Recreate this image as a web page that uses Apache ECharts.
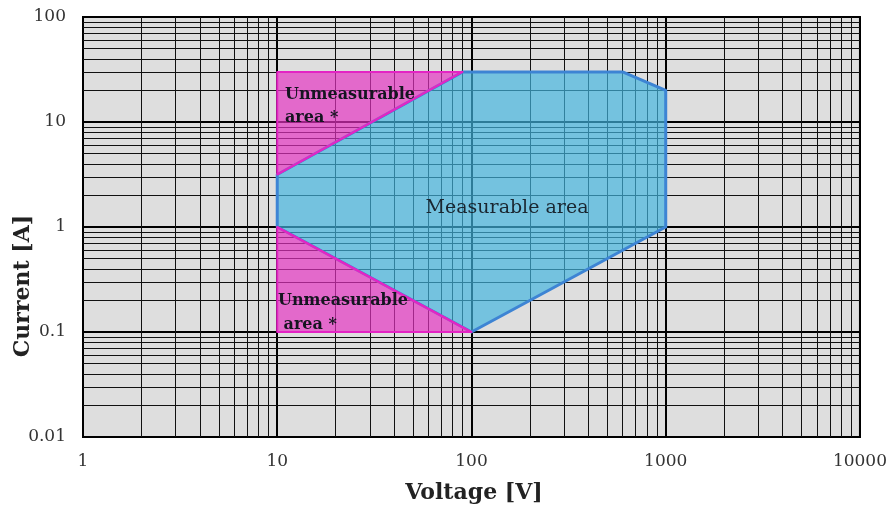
<!DOCTYPE html>
<html>
<head>
<meta charset="utf-8">
<script src="https://cdn.jsdelivr.net/npm/echarts@6/dist/echarts.min.js"></script>
<style>html,body{margin:0;padding:0;background:#fff;}#c{width:890px;height:506px;}</style>
</head>
<body>
<div id="c"></div>
<script>
// ---- data ----
const xTickLabels = ['1', '10', '100', '1000', '10000'];
const yTickLabels = ['0.01', '0.1', '1', '10', '100'];
const xDecades = [1, 10, 100, 1000];
const yDecades = [0.01, 0.1, 1, 10];
const minorMultipliers = [2, 3, 4, 5, 6, 7, 8, 9];

// polygon vertices [voltage V, current A]
const measurableArea = [[10, 1], [10, 3.16], [90, 30], [600, 30], [1000, 20], [1000, 1], [100, 0.1]];
const unmeasurableUpper = [[10, 3.16], [10, 30], [90, 30]];
const unmeasurableLower = [[10, 1], [10, 0.1], [100, 0.1]];

const xMinor = [];
xDecades.forEach(d => minorMultipliers.forEach(m => xMinor.push(+(m * d).toPrecision(3))));
const yMinor = [];
yDecades.forEach(d => minorMultipliers.forEach(m => yMinor.push(+(m * d).toPrecision(3))));

const chart = echarts.init(document.getElementById('c'), null, {renderer: 'canvas'});

function polySeries(name, pts, fill, stroke, lw, z) {
  return {
    name: name, type: 'custom', coordinateSystem: 'cartesian2d', z: z, clip: true, silent: true,
    data: pts,
    renderItem: function (params, api) {
      if (params.dataIndex !== 0) return null;
      const p = pts.map(v => api.coord(v));
      return {type: 'polygon', shape: {points: p},
        style: {fill: fill, stroke: stroke, lineWidth: lw, lineJoin: 'round'}};
    }
  };
}

const serifFont = '"DejaVu Serif", "Liberation Serif", serif';

chart.setOption({
  animation: false,
  backgroundColor: '#ffffff',
  grid: {left: 83, right: 30, top: 17, bottom: 69, show: true, backgroundColor: '#dedede',
    borderColor: '#000', borderWidth: 2},
  xAxis: {
    type: 'log', logBase: 10, min: 1, max: 10000,
    axisLine: {show: true, lineStyle: {color: '#000', width: 2}},
    axisTick: {show: false},
    splitLine: {show: true, lineStyle: {color: '#000', width: 2}},
    axisLabel: {margin: 16, color: '#333', fontFamily: serifFont, fontSize: 17,
      formatter: (v, i) => xTickLabels[i]}
  },
  yAxis: {
    type: 'log', logBase: 10, min: 0.01, max: 100,
    axisLine: {show: true, lineStyle: {color: '#000', width: 2}},
    axisTick: {show: false},
    splitLine: {show: true, lineStyle: {color: '#000', width: 2}},
    axisLabel: {margin: 17, color: '#333', fontFamily: serifFont, fontSize: 17,
      formatter: (v, i) => yTickLabels[i]}
  },
  series: [
    {
      name: 'minor grid', type: 'line', data: [], z: 1, silent: true,
      markLine: {
        z: 1, silent: true, symbol: 'none', animation: false,
        label: {show: false},
        lineStyle: {color: '#111', width: 1, type: 'solid'},
        emphasis: {disabled: true},
        data: xMinor.map(v => ({xAxis: v})).concat(yMinor.map(v => ({yAxis: v})))
      }
    },
    polySeries('Measurable area', measurableArea, 'rgba(66,182,224,0.68)', '#3d84d4', 3, 3),
    polySeries('Unmeasurable upper', unmeasurableUpper, 'rgba(230,50,195,0.68)', '#e424c4', 2, 4),
    polySeries('Unmeasurable lower', unmeasurableLower, 'rgba(230,50,195,0.68)', '#e424c4', 2, 4)
  ],
  graphic: [
    {type: 'text', z: 10, left: 285, top: 83, style: {text: 'Unmeasurable\narea *', fill: '#151520',
      font: 'bold 16px ' + serifFont, lineHeight: 23}},
    {type: 'text', z: 10, left: 278, top: 289, style: {text: 'Unmeasurable\n area *', fill: '#151520',
      font: 'bold 16px ' + serifFont, lineHeight: 24}},
    {type: 'text', z: 10, x: 507, y: 208, style: {text: 'Measurable area', fill: '#1a2630',
      font: '19px ' + serifFont, align: 'center', verticalAlign: 'middle'}},
    {type: 'text', z: 10, x: 474, y: 493, style: {text: 'Voltage [V]', fill: '#222',
      font: 'bold 22px ' + serifFont, align: 'center', verticalAlign: 'middle'}},
    {type: 'text', z: 10, x: 23, y: 286, rotation: Math.PI / 2, style: {text: 'Current [A]', fill: '#222',
      font: 'bold 22px ' + serifFont, align: 'center', verticalAlign: 'middle'}}
  ]
});
</script>
</body>
</html>
